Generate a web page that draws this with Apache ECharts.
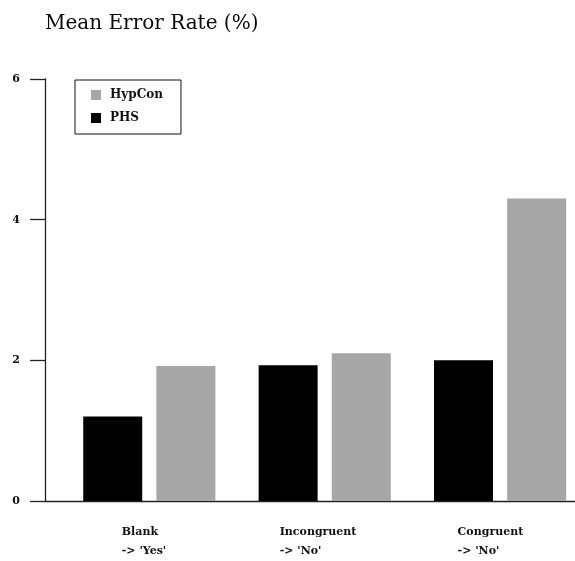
<!DOCTYPE html>
<html>
<head>
<meta charset="utf-8">
<script src="https://cdn.jsdelivr.net/npm/echarts@6/dist/echarts.min.js"></script>
<style>
  html, body { margin: 0; padding: 0; background: #fff; }
  #chart { width: 575px; height: 561px; }
</style>
</head>
<body>
<div id="chart"></div>
<script>
// Conditions and their two-line labels
const categories = ["Blank\n-> 'Yes'", "Incongruent\n-> 'No'", "Congruent\n-> 'No'"];
// Mean error rate (%) per condition
const phsValues = [1.2, 1.93, 2.0];
const hypconValues = [1.92, 2.1, 4.3];
// Y axis ticks
const yTicks = [0, 2, 4, 6];

const SERIF = '"DejaVu Serif", "Liberation Serif", serif';
// width of each label block so lines stay left-aligned under the group
const labelBlockWidths = [55, 90, 85];

const chart = echarts.init(document.getElementById('chart'), null, { renderer: 'canvas' });

const labelStyle = function (w) {
  return { width: w, align: 'left', fontFamily: SERIF, fontSize: 11, fontWeight: 'bold', color: '#111', lineHeight: 19 };
};

chart.setOption({
  animation: false,
  backgroundColor: '#fff',
  title: {
    text: 'Mean Error Rate (%)',
    left: 45,
    top: 14,
    padding: 0,
    textStyle: { fontFamily: SERIF, fontSize: 20, fontWeight: 'normal', color: '#0a0a0a' }
  },
  legend: {
    data: ['HypCon', 'PHS'],
    orient: 'vertical',
    left: 75,
    top: 80,
    padding: [9, 18, 10, 16],
    itemGap: 11,
    itemWidth: 10,
    itemHeight: 10,
    icon: 'rect',
    borderColor: '#111',
    borderWidth: 1,
    textStyle: { fontFamily: SERIF, fontSize: 12, fontWeight: 'bold', color: '#111', padding: [0, 0, 0, 4] }
  },
  grid: [
    // frame grid carrying the visible axes
    { left: 45, right: 0, top: 79, bottom: 60, outerBoundsMode: 'none' },
    // grid the bars are laid out in
    { left: 61.6, width: 526.2, top: 79, bottom: 60, outerBoundsMode: 'none' }
  ],
  xAxis: [
    {
      type: 'value', gridIndex: 0, min: 0, max: 1,
      axisLine: { show: true, lineStyle: { color: '#222', width: 1.3 } },
      axisTick: { show: false }, axisLabel: { show: false }, splitLine: { show: false }
    },
    {
      type: 'category', gridIndex: 1, data: categories,
      axisLine: { show: false }, axisTick: { show: false }, splitLine: { show: false },
      axisLabel: {
        margin: 22,
        formatter: function (value, idx) {
          const key = 'w' + idx;
          return value.split('\n').map(function (l) { return '{' + key + '|' + l + '}'; }).join('\n');
        },
        rich: {
          w0: labelStyle(labelBlockWidths[0]),
          w1: labelStyle(labelBlockWidths[1]),
          w2: labelStyle(labelBlockWidths[2])
        }
      }
    }
  ],
  yAxis: [
    {
      type: 'value', gridIndex: 0,
      min: yTicks[0], max: yTicks[yTicks.length - 1], interval: yTicks[1] - yTicks[0],
      axisLine: { show: true, lineStyle: { color: '#222', width: 1.3 } },
      axisTick: { show: true, inside: false, length: 15, lineStyle: { color: '#222', width: 1.3 } },
      axisLabel: { margin: 25, fontFamily: SERIF, fontSize: 11, fontWeight: 'bold', color: '#111' },
      splitLine: { show: false }
    },
    {
      type: 'value', gridIndex: 1,
      min: yTicks[0], max: yTicks[yTicks.length - 1],
      show: false, splitLine: { show: false }
    }
  ],
  series: [
    {
      name: 'PHS', type: 'bar', xAxisIndex: 1, yAxisIndex: 1,
      data: phsValues, barWidth: 59, barGap: '24%',
      itemStyle: { color: '#000' }
    },
    {
      name: 'HypCon', type: 'bar', xAxisIndex: 1, yAxisIndex: 1,
      data: hypconValues, barWidth: 59, barGap: '24%',
      itemStyle: { color: '#a6a6a6' }
    }
  ]
});
</script>
</body>
</html>
